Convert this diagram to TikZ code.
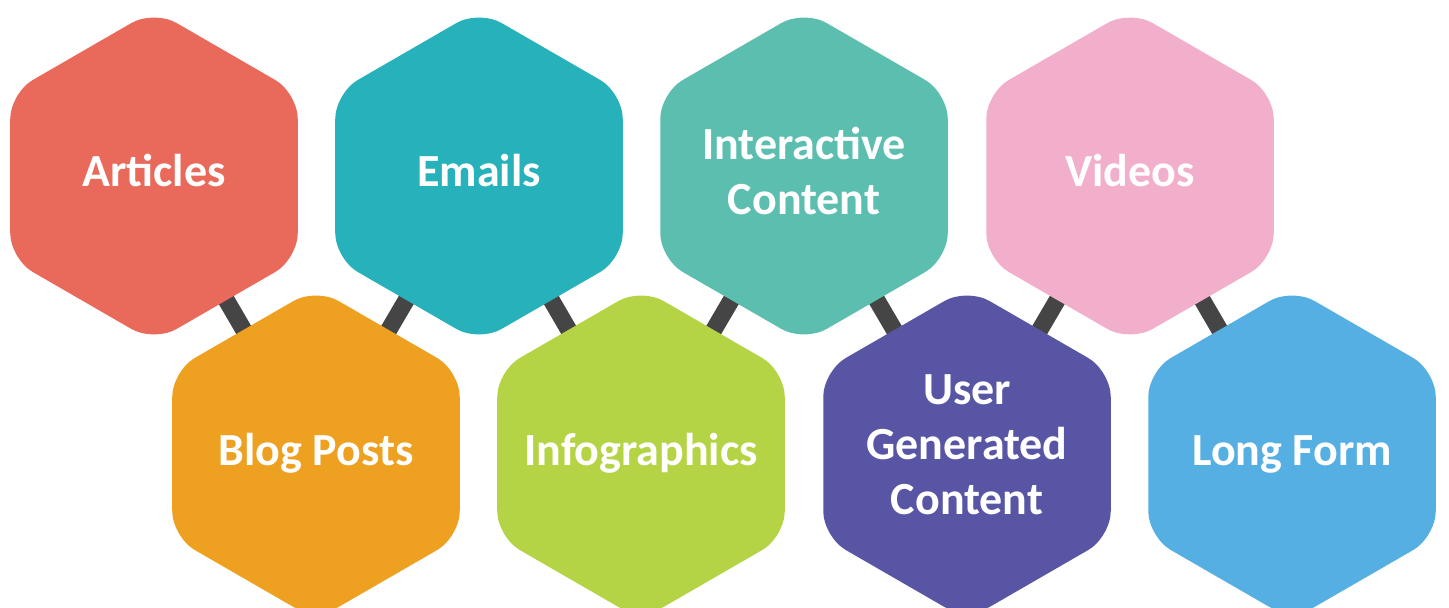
\documentclass[tikz,border=0pt]{standalone}
\usepackage{fontspec}
\setmainfont{Carlito}
\usetikzlibrary{shapes.geometric,backgrounds}

\definecolor{cArticles}{HTML}{E9695A}
\definecolor{cEmails}{HTML}{27B1BA}
\definecolor{cInteract}{HTML}{5BBEAE}
\definecolor{cVideos}{HTML}{F2AFCB}
\definecolor{cBlog}{HTML}{EEA020}
\definecolor{cInfo}{HTML}{B5D445}
\definecolor{cUser}{HTML}{5856A4}
\definecolor{cLong}{HTML}{55AFE3}
\definecolor{cLink}{HTML}{454545}

% label of zero width, so every hexagon keeps the same size;
% the optional depth below the last line nudges the text upwards
\newcommand\hexlbl[2][0pt]{\makebox[0pt]{\begin{tabular}{@{}c@{}}#2\rule[-#1]{0pt}{0pt}\end{tabular}}}

\tikzset{
  hexbox/.style={regular polygon, regular polygon sides=6, shape border rotate=30,
    minimum size=166pt, inner sep=0pt, outer sep=0pt, rounded corners=13pt,
    fill=#1, draw=none, text=white,
    font=\bfseries\fontsize{23}{27.5}\selectfont},
  linkbar/.style={draw=cLink, line width=8.5pt}
}

\begin{document}
\begin{tikzpicture}[x=0.5pt,y=-0.5pt]
  \useasboundingbox (0,0) rectangle (1449,608);
  \clip (0,0) rectangle (1449,608);

  % upper row
  \node[hexbox=cArticles] (art) at (154,176) {\hexlbl{Articles}};
  \node[hexbox=cEmails]   (eml) at (479,176) {\hexlbl{Emails}};
  \node[hexbox=cInteract] (int) at (804,176) {\hexlbl{Interactive\\Content}};
  \node[hexbox=cVideos]   (vid) at (1130,176) {\hexlbl{Videos}};

  % lower row
  \node[hexbox=cBlog]  (blg) at (316,454) {\hexlbl{Blog Posts}};
  \node[hexbox=cInfo]  (inf) at (641,454) {\hexlbl{Infographics}};
  \node[hexbox=cUser]  (usr) at (967,454) {\hexlbl[14pt]{User\\Generated\\Content}};
  \node[hexbox=cLong]  (lng) at (1292,454) {\hexlbl{Long Form}};

  % white ground and the short bars joining neighbouring hexagons
  \begin{scope}[on background layer]
    \fill[white] (0,0) rectangle (1449,608);
    \draw[linkbar] (art.center) -- (blg.center);
    \draw[linkbar] (blg.center) -- (eml.center);
    \draw[linkbar] (eml.center) -- (inf.center);
    \draw[linkbar] (inf.center) -- (int.center);
    \draw[linkbar] (int.center) -- (usr.center);
    \draw[linkbar] (usr.center) -- (vid.center);
    \draw[linkbar] (vid.center) -- (lng.center);
  \end{scope}
\end{tikzpicture}
\end{document}
